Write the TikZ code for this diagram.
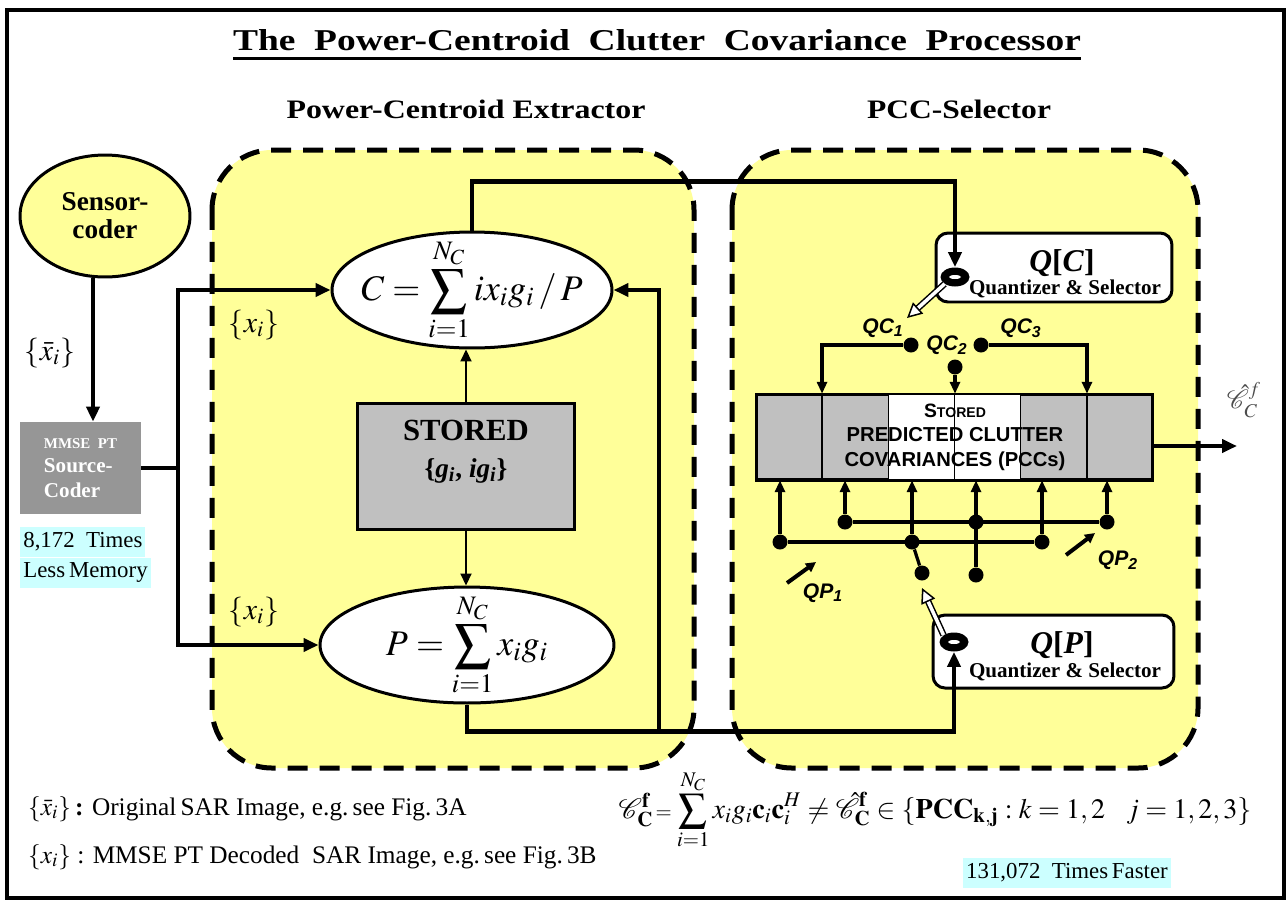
\documentclass[tikz,border=0pt]{standalone}
\usepackage{graphicx}
\usepackage{mathptmx}
\usepackage{fontspec}
\setmainfont{Liberation Serif}
\newfontfamily\arialfont{Liberation Sans}
\usepackage{tikz}
\usetikzlibrary{positioning, shapes.geometric, arrows.meta, calc}
\definecolor{regionYellow}{HTML}{FFFF99}
\definecolor{storedGray}{HTML}{C0C0C0}
\definecolor{coderGray}{HTML}{969696}
\definecolor{noteCyan}{HTML}{CCFFFF}

\begin{document}
\begin{tikzpicture}[x=0.02cm, y=-0.02cm,
  bus/.style={line width=0.09cm},
  busarrow/.style={bus, -{Triangle[length=0.3cm, width=0.26cm]}},
  wire/.style={line width=0.065cm},
  wirearrow/.style={wire, -{Triangle[length=0.24cm, width=0.2cm]}},
  thinarrow/.style={line width=0.04cm, -{Triangle[length=0.24cm, width=0.22cm]}},
  hollow/.style={line width=0.03cm, double=white, double distance=0.07cm,
    -{Triangle[length=0.3cm, width=0.3cm, fill=white]}},
  pointer/.style={line width=0.08cm, -{Triangle[length=0.2cm, width=0.2cm]}},
  region/.style={fill=regionYellow, line width=0.1cm,
    dash pattern=on 0.4cm off 0.24cm, rounded corners=1.2cm},
  formula/.style={ellipse, draw, fill=white, line width=0.06cm, inner sep=0pt},
  junction/.style={circle, fill, inner sep=0pt, minimum size=0.3cm},
  ring/.style={ellipse, fill, inner sep=0pt, minimum width=0.58cm, minimum height=0.38cm,
    path picture={\fill[white] (path picture bounding box.center) ellipse (0.12cm and 0.04cm);}},
  qbox/.style={draw, fill=white, line width=0.06cm, rounded corners=0.24cm},
  note/.style={fill=noteCyan, inner sep=0.06cm, minimum height=0.6cm,
    font=\fontsize{13}{14}\selectfont},
  qlabel/.style={font=\arialfont\bfseries\itshape\fontsize{12}{14}\selectfont},
  setlabel/.style={font=\fontsize{17}{18}\selectfont}
]

\useasboundingbox (0,0) rectangle (1287,903);
\fill[white] (0,0) rectangle (1287,903);
\draw[line width=0.08cm] (7,10) rectangle (1284,898);

% headings
\node[anchor=base] (title) at (657,50)
{\resizebox{16.96cm}{0.42cm}{\bfseries The\ \ Power-Centroid\ \ Clutter\ \ Covariance\ \ Processor}};
\draw[line width=0.06cm] (233,58) -- (1081,58);
\node[anchor=base] (extHead) at (466,118) {\resizebox{7.18cm}{0.37cm}{\bfseries Power-Centroid Extractor}};
\node[anchor=base] (selHead) at (959,118) {\resizebox{3.68cm}{0.37cm}{\bfseries PCC-Selector}};

\draw[region] (212,150) rectangle (694,768);
\draw[region] (732,150) rectangle (1198,768);

% sensor side
\node[
  ellipse, draw, fill=regionYellow, line width=0.06cm,
  minimum width=3.4cm, minimum height=2.44cm, align=center,
  font=\bfseries\fontsize{15.5}{16}\selectfont
] (sensor) at (105,216) {Sensor-\\coder};

\node[
  fill=coderGray, text=white, minimum width=2.42cm, minimum height=1.84cm,
  align=left, font=\bfseries\fontsize{12}{14}\selectfont
] (coder) at (80.5,468)
{{\fontsize{8.5}{14}\selectfont MMSE~~PT}\\Source-\\Coder};

\draw[busarrow] ([xshift=-0.24cm]sensor.south) -- ([xshift=-0.24cm]sensor.south |- coder.north);
\node[setlabel] (xbar) at (50,353) {$\{\bar{x}_i\}$};

\node[note, anchor=west] (memA) at (20,542) {8,172~~Times};
\node[note, anchor=north west] (memB) at (memA.south west) {Less\,Memory};

% power-centroid extractor
\node[formula, minimum width=5.6cm, minimum height=2.32cm] (cent) at (472,290) {};
\node[font=\fontsize{20.5}{22}\selectfont] (centText) at (cent.center)
{$C=\displaystyle\sum_{i=1}^{N_C} i x_i g_i\,/\,P$};

\node[draw, fill=storedGray, line width=0.06cm, minimum width=4.36cm, minimum height=2.54cm] (stored) at (466,466.5) {};
\node[anchor=base, font=\bfseries\fontsize{17.5}{20}\selectfont] (storedA) at (466,440) {STORED};
\node[anchor=base, font=\bfseries\fontsize{15.5}{18}\selectfont] (storedB) at (466,477)
{\{\textit{g\textsubscript{i}}, \textit{ig\textsubscript{i}}\}};

\node[formula, minimum width=5.88cm, minimum height=2.32cm] (pow) at (467,645) {};
\node[font=\fontsize{20.5}{22}\selectfont] (powText) at (pow.center)
{$P=\displaystyle\sum_{i=1}^{N_C} x_i g_i$};

\draw[thinarrow] (stored.north) -- (stored.north |- cent.south);
\draw[thinarrow] (stored.south) -- (stored.south |- pow.north);

\coordinate (split) at (178,468);
\draw[bus] (coder.east) -- (split);
\draw[busarrow] (split) |- (cent.west);
\draw[busarrow] (split) |- (pow.west);
\node[setlabel] (xiTop) at (254,325) {$\{x_i\}$};
\node[setlabel] (xiBot) at (254,612) {$\{x_i\}$};

% quantizers
\node[qbox, minimum width=4.72cm, minimum height=1.38cm] (qcBox) at (1054,267.5) {};
\node[font=\bfseries\fontsize{18}{20}\selectfont] (qcName) at (1062,263) {\textit{Q}[\textit{C}]};
\node[font=\bfseries\fontsize{12}{14}\selectfont] (qcSub) at (1065,289) {Quantizer \& Selector};
\node[ring] (ringC) at (955,277) {};

\node[qbox, minimum width=4.82cm, minimum height=1.46cm] (qpBox) at (1053.5,651.5) {};
\node[font=\bfseries\fontsize{18}{20}\selectfont] (qpName) at (1062,645) {\textit{Q}[\textit{P}]};
\node[font=\bfseries\fontsize{12}{14}\selectfont] (qpSub) at (1065,672) {Quantizer \& Selector};
\node[ring] (ringP) at (954,642) {};

\draw[busarrow] (cent.north) -- ++(0,-49) -| (ringC.north);
\draw[busarrow] (pow.south) -- ++(0,27) -| (ringP.south);
\coordinate (tap) at (659,730);
\draw[busarrow] (tap) |- (cent.east);

\coordinate (qcTip) at (907,318);
\coordinate (qpTip) at (922,588);
\draw[hollow] (ringC.south west) -- (qcTip);
\draw[hollow] (ringP.north west) -- (qpTip);

% PCC store
\node[draw, fill=storedGray, line width=0.05cm, minimum width=7.9cm, minimum height=1.68cm, inner sep=0pt] (pcc) at (954.5,437) {};
\fill[white] ($(pcc.south west)!1/3!(pcc.south east)$) rectangle ($(pcc.north west)!2/3!(pcc.north east)$);
\foreach \k in {1,...,5}
  \draw[line width=0.03cm] ($(pcc.north west)!\k/6!(pcc.north east)$) -- ($(pcc.south west)!\k/6!(pcc.south east)$);
\draw[line width=0.05cm] (pcc.south west) rectangle (pcc.north east);
\node[align=center, font=\arialfont\bfseries\fontsize{11.5}{14}\selectfont] (pccText) at (955,437)
{{\fontsize{11}{14}\selectfont S}{\fontsize{8}{14}\selectfont TORED}\\PREDICTED CLUTTER\\COVARIANCES (PCCs)};

\coordinate (pccOut) at (1237,446);
\draw[busarrow] (pcc.east |- pccOut) -- (pccOut);
\node[font=\fontsize{15}{16}\selectfont, text=black!70] (pccOutLabel) at (1244,400) {$\hat{\mathcal{C}}_C^f$};

% centroid selection
\node[junction] (qc1) at (911,345) {};
\node[junction] (qc3) at (981,345) {};
\node[junction] (qc2) at (955,367) {};
\node[qlabel] (qc1Label) at (883,328) {QC\textsubscript{1}};
\node[qlabel] (qc2Label) at (947,345) {QC\textsubscript{2}};
\node[qlabel] (qc3Label) at (1021,328) {QC\textsubscript{3}};
\draw[wirearrow] (qc1) -| ($(pcc.north west)!1/6!(pcc.north east)$);
\draw[wirearrow] (qc3) -| ($(pcc.north west)!5/6!(pcc.north east)$);
\draw[wirearrow] (qc2) -- (qc2 |- pcc.north);

% power selection
\foreach \name/\x in {p1a/780, p1b/912, p1c/1042}
  \node[junction] (\name) at (\x,542) {};
\foreach \name/\x in {p2a/845, p2b/976, p2c/1107}
  \node[junction] (\name) at (\x,522) {};
\node[junction] (swA) at (922,573) {};
\node[junction] (swB) at (976,575) {};
\draw[wire] (p1a) -- (p1c);
\draw[wire] (p2a) -- (p2c);
\foreach \name in {p1a, p1b, p1c, p2a, p2c}
  \draw[wirearrow] (\name) -- (\name |- pcc.south);
\draw[wirearrow] (swB) -- (swB |- pcc.south);
\draw[wire] (swA) -- (p1b);

\node[qlabel] (qp1Label) at (823,593) {QP\textsubscript{1}};
\node[qlabel] (qp2Label) at (1118,560) {QP\textsubscript{2}};
\draw[pointer] ([xshift=-0.72cm, yshift=0.2cm]qp1Label.center) -- ++(29,-21);
\draw[pointer] ([xshift=-1.04cm, yshift=0.1cm]qp2Label.center) -- ++(29,-22);

% notes
\node[anchor=base west, font=\fontsize{14.4}{16}\selectfont] (legendA) at (22,815)
{$\{\bar{x}_i\}$\textbf{\,:} Original\,SAR Image, e.g.\,see Fig.\,3A};
\node[anchor=base west, font=\fontsize{14.4}{16}\selectfont] (legendB) at (22,863)
{$\{x_i\}$ : MMSE PT Decoded~ SAR Image, e.g.\,see Fig.\,3B};

\node[anchor=base, font=\fontsize{16}{18}\selectfont] (covEq) at (935,818)
{$\mathcal{C}^{\mathbf{f}}_{\mathbf{C}} {\scriptstyle\,=\,} \displaystyle\sum_{i=1}^{N_C} x_i g_i \mathbf{c}_i \mathbf{c}_i^H \neq \hat{\mathcal{C}}^{\mathbf{f}}_{\mathbf{C}} \in \{\mathbf{PCC}_{\mathbf{k,j}} : k=1,2\ \ \ j=1,2,3\}$};

\node[note] (fast) at (1067,873) {131,072~~Times\,Faster};

\end{tikzpicture}
\end{document}
